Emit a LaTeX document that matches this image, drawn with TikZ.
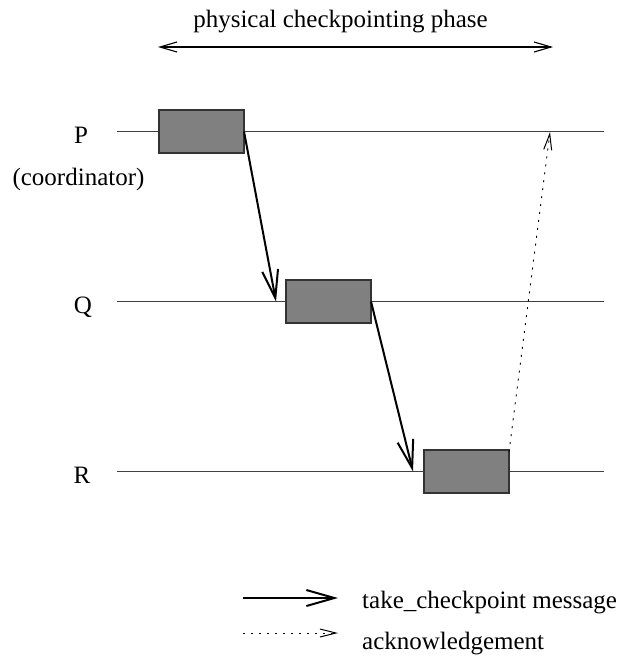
\documentclass[tikz,border=0pt]{standalone}
\usepackage{fontspec}
\setmainfont{Liberation Serif}
\usetikzlibrary{arrows.meta}
\begin{document}
\begin{tikzpicture}[x=1pt,y=-1pt,
  lbl/.style={anchor=base,inner sep=0pt,font=\fontsize{25}{30}\selectfont},
  lgd/.style={anchor=base west,inner sep=0pt,font=\fontsize{25}{30}\selectfont},
  timeline/.style={draw=black!75,line width=1.2pt},
  ckpt/.style={draw=black!80,fill=black!50,line width=1.4pt,minimum width=85pt,minimum height=43pt,inner sep=0pt,outer sep=0pt},
  msg/.style={line width=2pt,-{Straight Barb[length=28pt,width=16pt,line width=2pt]}},
  ack/.style={line width=0.9pt,dash pattern=on 2pt off 6pt,-{Straight Barb[length=16pt,width=8pt,line width=1pt]}},
  phase/.style={line width=1.1pt,{Straight Barb[length=17pt,width=10pt,line width=1.1pt]}-{Straight Barb[length=17pt,width=10pt,line width=1.1pt]}}]
\useasboundingbox (0,0) rectangle (621,656);
% title and phase arrow
\node[lbl] (title) at (340.5,27) {physical checkpointing phase};
\coordinate (phL) at (158,47);
\coordinate (phR) at (553,47);
\draw[phase] (phL) -- (phR);
% process labels
\node[lbl] (lP) at (81,143) {P};
\node[lbl] (lC) at (78.5,185) {(coordinator)};
\node[lbl] (lQ) at (83,313) {Q};
\node[lbl] (lR) at (82,483) {R};
% timelines
\coordinate (pS) at (117,131.5); \coordinate (pE) at (604,131.5);
\coordinate (qS) at (117,301.5); \coordinate (qE) at (604,301.5);
\coordinate (rS) at (117,471.5); \coordinate (rE) at (604,471.5);
\draw[timeline] (pS) -- (pE);
\draw[timeline] (qS) -- (qE);
\draw[timeline] (rS) -- (rE);
% checkpoint boxes
\node[ckpt] (bP) at (201.5,131.5) {};
\node[ckpt] (bQ) at (328.5,301.5) {};
\node[ckpt] (bR) at (466.5,471.5) {};
% messages
\coordinate (m1) at (276,301.5);
\coordinate (m2) at (413,471.5);
\coordinate (a1s) at (509,452);
\coordinate (a1e) at (550,132);
\draw[msg] (bP.east) -- (m1);
\draw[msg] (bQ.east) -- (m2);
\draw[ack] (a1s) -- (a1e);
% legend
\coordinate (g1s) at (243,598); \coordinate (g1e) at (338,598);
\coordinate (g2s) at (243,633); \coordinate (g2e) at (338,633);
\draw[msg] (g1s) -- (g1e);
\draw[ack] (g2s) -- (g2e);
\node[lgd] (t1) at (362,608) {take\_checkpoint message};
\node[lgd] (t2) at (362,649) {acknowledgement};
\end{tikzpicture}
\end{document}
